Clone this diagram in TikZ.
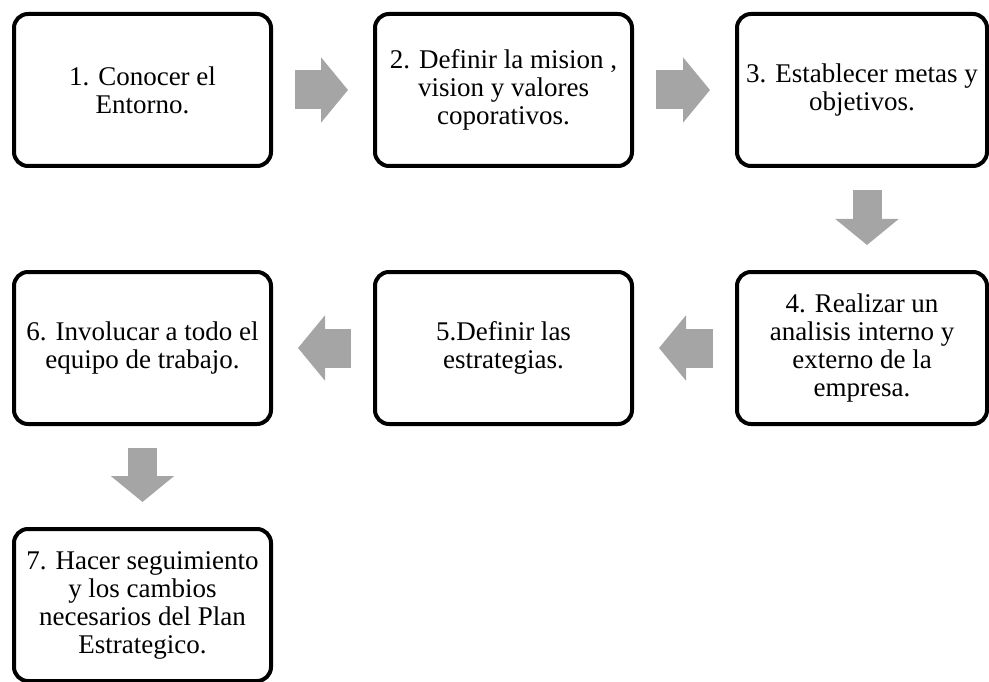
\documentclass[tikz,border=0pt]{standalone}
\usepackage{fontspec}
\setmainfont{Liberation Serif}
\usetikzlibrary{arrows.meta}
\definecolor{grisflecha}{RGB}{165,165,165}
\tikzset{
	paso/.style={draw=black, line width=4pt, rounded corners=14pt, align=center,
		minimum width=257pt, minimum height=152pt, inner sep=0pt,
		font=\fontsize{27}{28}\selectfont},
	flechah/.style={draw=grisflecha, line width=39pt, -{Triangle[length=27pt, width=64pt]},
		shorten <=22pt, shorten >=25pt},
	flechav/.style={draw=grisflecha, line width=29pt, -{Triangle[length=26pt, width=62pt]},
		shorten <=22pt, shorten >=25pt}
}

\begin{document}
\begin{tikzpicture}[x=1pt, y=-1pt]
			%%%%% START %%%%%
			\useasboundingbox (0, 0) rectangle (989, 682);
			
			\node[paso] (paso1) at (142.5, 90) {1. Conocer el\\Entorno.};
			\node[paso] (paso2) at (503.5, 90) {2. Definir la mision ,\\vision y valores\\coporativos.};
			\node[paso, minimum width=250pt] (paso3) at (862, 90) {3. Establecer metas y\\objetivos.};
			
			\node[paso, minimum width=250pt] (paso4) at (862, 348) {4. Realizar un\\analisis interno y\\externo de la\\empresa.};
			\node[paso] (paso5) at (503.5, 348) {5.Definir las\\estrategias.};
			\node[paso] (paso6) at (142.5, 348) {6. Involucar a todo el\\equipo de trabajo.};
			
			\node[paso] (paso7) at (142.5, 605) {7. Hacer seguimiento\\y los cambios\\necesarios del Plan\\Estrategico.};
			
			\draw[flechah] (paso1.east) -- (paso2.west);
			\draw[flechah] (paso2.east) -- (paso3.west);
			\draw[flechav] ([xshift=5pt]paso3.south) -- ([xshift=5pt]paso4.north);
			\draw[flechah] (paso4.west) -- (paso5.east);
			\draw[flechah] (paso5.west) -- (paso6.east);
			\draw[flechav] (paso6.south) -- (paso7.north);
			
			%%%%% END %%%%%
\end{tikzpicture}
\end{document}
